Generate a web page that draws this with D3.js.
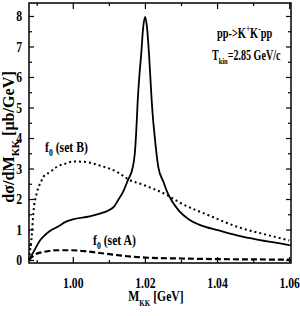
<!DOCTYPE html>
<html lang="en">
<head>
	<meta charset="utf-8">
	<title>KK mass spectrum</title>
	<script src="https://d3js.org/d3.v7.min.js"></script>
	<style>
		body{ margin:0; background:white; }
		text{ font-family:"Liberation Serif","Times New Roman",serif; font-weight:bold; fill:black; }
	</style>
</head>
<body>
<div id="chart"></div>

<script>
// solid curve (phi + background)
let massS=[0.98786,0.9895,0.99089,0.9923,0.99365,0.9964,0.998,1.0,1.0047,1.0075,1.01,1.0115,1.0125,1.014,1.01525,1.01663,1.0172,1.01757,1.01801,1.0185,1.01895,1.0195,1.02005,1.0206,1.02115,1.02187,1.02234,1.02262,1.0231,1.02372,1.02518,1.02628,1.02767,1.02952,1.0322,1.035,1.0405,1.0461,1.0516,1.0571,1.06];
let valS =[0,0.35,0.64,0.82,0.95,1.13,1.25,1.33,1.43,1.52,1.63,1.76,1.95,2.25,2.61,3.04,3.5,4.16,5.24,6.1,6.72,7.6,7.97,7.6,6.72,5.24,4.5,4.16,3.6,3.04,2.55,2.2,1.9,1.6,1.33,1.16,0.97,0.79,0.66,0.55,0.49];
// f0 set B (dotted)
let massB=[0.98786,0.9882,0.9886,0.98905,0.98998,0.99136,0.9918,0.99365,0.9955,0.99826,1.0,1.003,1.00745,1.01296,1.01517,1.01986,1.02629,1.02952,1.0378,1.0461,1.053,1.06];
let valB =[0,0.35,0.75,1.52,2.17,2.61,2.72,2.88,3.05,3.17,3.23,3.22,3.1,2.84,2.66,2.45,2.12,1.89,1.46,1.07,0.85,0.64];
// f0 set A (dashed)
let massA=[0.98786,0.9885,0.9895,0.9922,0.9958,0.9995,1.0032,1.0075,1.013,1.02,1.03,1.04,1.05,1.06];
let valA =[0,0.08,0.18,0.27,0.32,0.32,0.29,0.23,0.15,0.08,0.05,0.03,0.02,0.01];

let xLabels=[1.00,1.02,1.04,1.06];
let xMinor=[0.99,1.01,1.03,1.05];
let yLabels=[0,1,2,3,4,5,6,7,8];
let yMinor=[0.5,1.5,2.5,3.5,4.5,5.5,6.5,7.5];

let W=300,H=316;
let pL=29,pR=291,pT=3,pB=263;
let squeeze=0.78;   // the fonts of the original look narrow

let svg=d3.select("#chart").append("svg")
	.attr("width",W).attr("height",H);

let x=d3.scaleLinear().domain([0.98786,1.0605]).range([pL,pR]);
let y=d3.scaleLinear().domain([-0.098,8.426]).range([pB,pT]);

// ticks, all pointing inwards
svg.append("g").attr("transform","translate(0,"+pB+")")
	.call(d3.axisBottom(x).tickValues(xLabels).tickSize(-6).tickFormat(d3.format(".2f")).tickPadding(14))
	.call(g=>g.select(".domain").remove());
svg.append("g").attr("transform","translate(0,"+pB+")")
	.call(d3.axisBottom(x).tickValues(xMinor).tickSize(-3).tickFormat(""))
	.call(g=>g.select(".domain").remove());
svg.append("g").attr("transform","translate(0,"+pT+")")
	.call(d3.axisTop(x).tickValues(xLabels).tickSize(-6).tickFormat(""))
	.call(g=>g.select(".domain").remove());
svg.append("g").attr("transform","translate(0,"+pT+")")
	.call(d3.axisTop(x).tickValues(xMinor).tickSize(-3).tickFormat(""))
	.call(g=>g.select(".domain").remove());

svg.append("g").attr("transform","translate("+pL+",0)")
	.call(d3.axisLeft(y).tickValues(yLabels).tickSize(-5).tickFormat(d3.format("d")).tickPadding(9))
	.call(g=>g.select(".domain").remove());
svg.append("g").attr("transform","translate("+pL+",0)")
	.call(d3.axisLeft(y).tickValues(yMinor).tickSize(-3).tickFormat(""))
	.call(g=>g.select(".domain").remove());
svg.append("g").attr("transform","translate("+pR+",0)")
	.call(d3.axisRight(y).tickValues(yLabels).tickSize(-5).tickFormat(""))
	.call(g=>g.select(".domain").remove());
svg.append("g").attr("transform","translate("+pR+",0)")
	.call(d3.axisRight(y).tickValues(yMinor).tickSize(-3).tickFormat(""))
	.call(g=>g.select(".domain").remove());

svg.selectAll(".tick line").attr("stroke","black").attr("stroke-width",1.2);
svg.selectAll(".tick text")
	.style("font-family","'Liberation Serif',serif")
	.style("font-weight","bold")
	.style("font-size","15px")
	.attr("transform","scale("+squeeze+",1)");

// curves
let line=d3.line().x(d=>x(d[0])).y(d=>y(d[1])).curve(d3.curveMonotoneX);

svg.append("path").datum(d3.zip(massB,valB))
	.attr("d",line).attr("fill","none").attr("stroke","black")
	.attr("stroke-width",2).attr("stroke-dasharray","2,3");
svg.append("path").datum(d3.zip(massA,valA))
	.attr("d",line).attr("fill","none").attr("stroke","black")
	.attr("stroke-width",2.2).attr("stroke-dasharray","6,3");
svg.append("path").datum(d3.zip(massS,valS))
	.attr("d",line).attr("fill","none").attr("stroke","black")
	.attr("stroke-width",1.8);

// frame
svg.append("rect").attr("x",pL).attr("y",pT)
	.attr("width",pR-pL).attr("height",pB-pT)
	.attr("fill","none").attr("stroke","black").attr("stroke-width",1.5);

function label(px,py,size,sq){
	return svg.append("text")
		.attr("transform","translate("+px+","+py+") scale("+sq+",1)")
		.style("font-size",size+"px");
}

// labels inside the plot
let t1=label(217,38,14,0.74);
t1.append("tspan").text("pp->K");
t1.append("tspan").text("+").attr("dy",-6).style("font-size","10px");
t1.append("tspan").text("K").attr("dy",6);
t1.append("tspan").text("-").attr("dy",-6).style("font-size","10px");
t1.append("tspan").text("pp").attr("dy",6);

let t2=label(212,60,14,0.72);
t2.append("tspan").text("T");
t2.append("tspan").text("kin").attr("dy",4).style("font-size","9px");
t2.append("tspan").text("=2.85 GeV/c").attr("dy",-4);

let fB=label(45,152,15,squeeze);
fB.append("tspan").text("f");
fB.append("tspan").text("0").attr("dy",4).style("font-size","10px");
fB.append("tspan").text(" (set B)").attr("dy",-4);

let fA=label(93,245,15,squeeze);
fA.append("tspan").text("f");
fA.append("tspan").text("0").attr("dy",4).style("font-size","10px");
fA.append("tspan").text(" (set A)").attr("dy",-4);

// axis titles
let xt=label(156,301,15,squeeze).attr("text-anchor","middle");
xt.append("tspan").text("M");
xt.append("tspan").text("KK").attr("dy",5).style("font-size","9px");
xt.append("tspan").text(" [GeV]").attr("dy",-5);

let yt=svg.append("text").attr("transform","translate(14,137) rotate(-90) scale(0.95,1)")
	.attr("text-anchor","middle").style("font-size","17px");
yt.append("tspan").text("dσ/dM");
yt.append("tspan").text("KK").attr("dy",5).style("font-size","11px");
yt.append("tspan").text("  [μb/GeV]").attr("dy",-5);
</script>
</body>
</html>
